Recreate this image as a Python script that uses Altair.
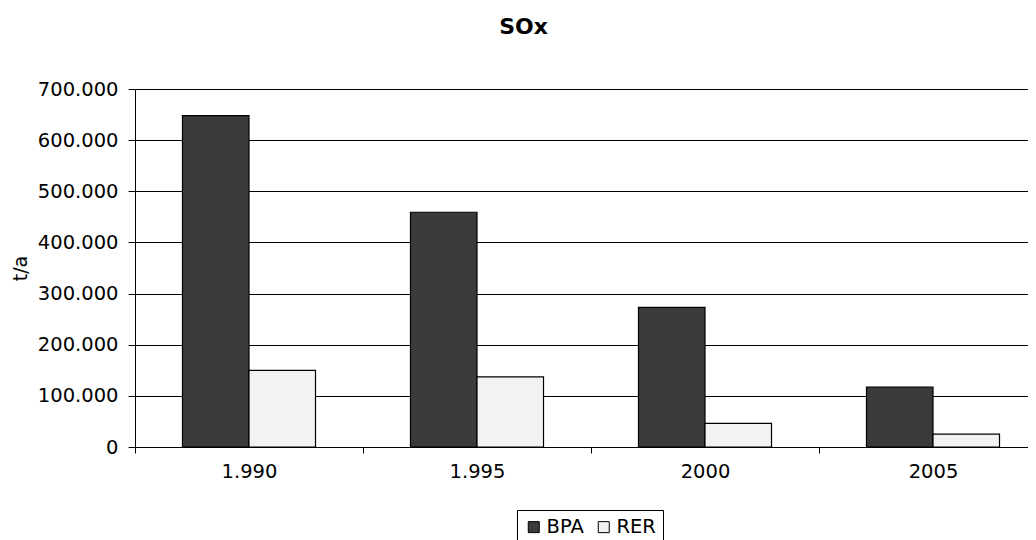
import altair as alt
import pandas as pd

years = ["1.990", "1.995", "2000", "2005"]
bpa = [648000, 459000, 273000, 117000]
rer = [150000, 137000, 46000, 25000]
series = ["BPA", "RER"]
colors = ["#3b3b3b", "#f2f2f2"]

rows = []
for i, y in enumerate(years):
    rows.append({"year": y, "series": "BPA", "value": bpa[i]})
    rows.append({"year": y, "series": "RER", "value": rer[i]})
df = pd.DataFrame(rows)

FONT = "DejaVu Sans"

chart = alt.Chart(df).mark_bar(stroke="black", strokeWidth=1.2).encode(
    x=alt.X("year:N", sort=years, title=None,
            scale=alt.Scale(range=[0, 912], paddingInner=0, paddingOuter=0),
            axis=alt.Axis(labelAngle=0, tickBand="extent", tickSize=6, tickColor="black",
                          domainColor="black", labelFontSize=19.5, labelFont=FONT,
                          labelColor="black", labelPadding=9, grid=False)),
    xOffset=alt.XOffset("series:N", sort=series,
                        scale=alt.Scale(paddingOuter=0.714, paddingInner=0)),
    y=alt.Y("value:Q", title="t/a",
            scale=alt.Scale(domain=[0, 700000], nice=False),
            axis=alt.Axis(values=list(range(0, 700001, 100000)),
                          labelExpr="replace(format(datum.value, ','), ',', '.')",
                          tickSize=7, tickColor="black", domainColor="black",
                          gridColor="black", gridWidth=1, labelFontSize=19.5, labelFont=FONT,
                          labelColor="black", labelPadding=10,
                          titleFontSize=19, titleFont=FONT, titleFontWeight="normal",
                          titleColor="black", titlePadding=7)),
    color=alt.Color("series:N", sort=series,
                    scale=alt.Scale(domain=series, range=colors),
                    legend=alt.Legend(title=None, orient="none", legendX=382, legendY=421,
                                      direction="horizontal", strokeColor="black",
                                      padding=7, symbolType="square", symbolSize=121,
                                      symbolStrokeColor="black", symbolStrokeWidth=1,
                                      symbolOpacity=1,
                                      labelFontSize=19.5, labelFont=FONT, labelColor="black",
                                      labelOffset=3, columnPadding=10)),
).properties(
    width=893, height=358,
    title=alt.TitleParams("SOx", fontSize=22, font=FONT, fontWeight="bold",
                          color="black", anchor="middle", dx=-58, offset=40),
    padding={"left": 127, "top": 81, "right": 0, "bottom": 93},
    autosize=alt.AutoSizeParams(type="none"),
).configure_view(
    fill="#c0c0c0", stroke="#808080", strokeWidth=1.5
).configure(background="white")

chart.save("out.html", embed_options={"renderer": "svg", "actions": False})
